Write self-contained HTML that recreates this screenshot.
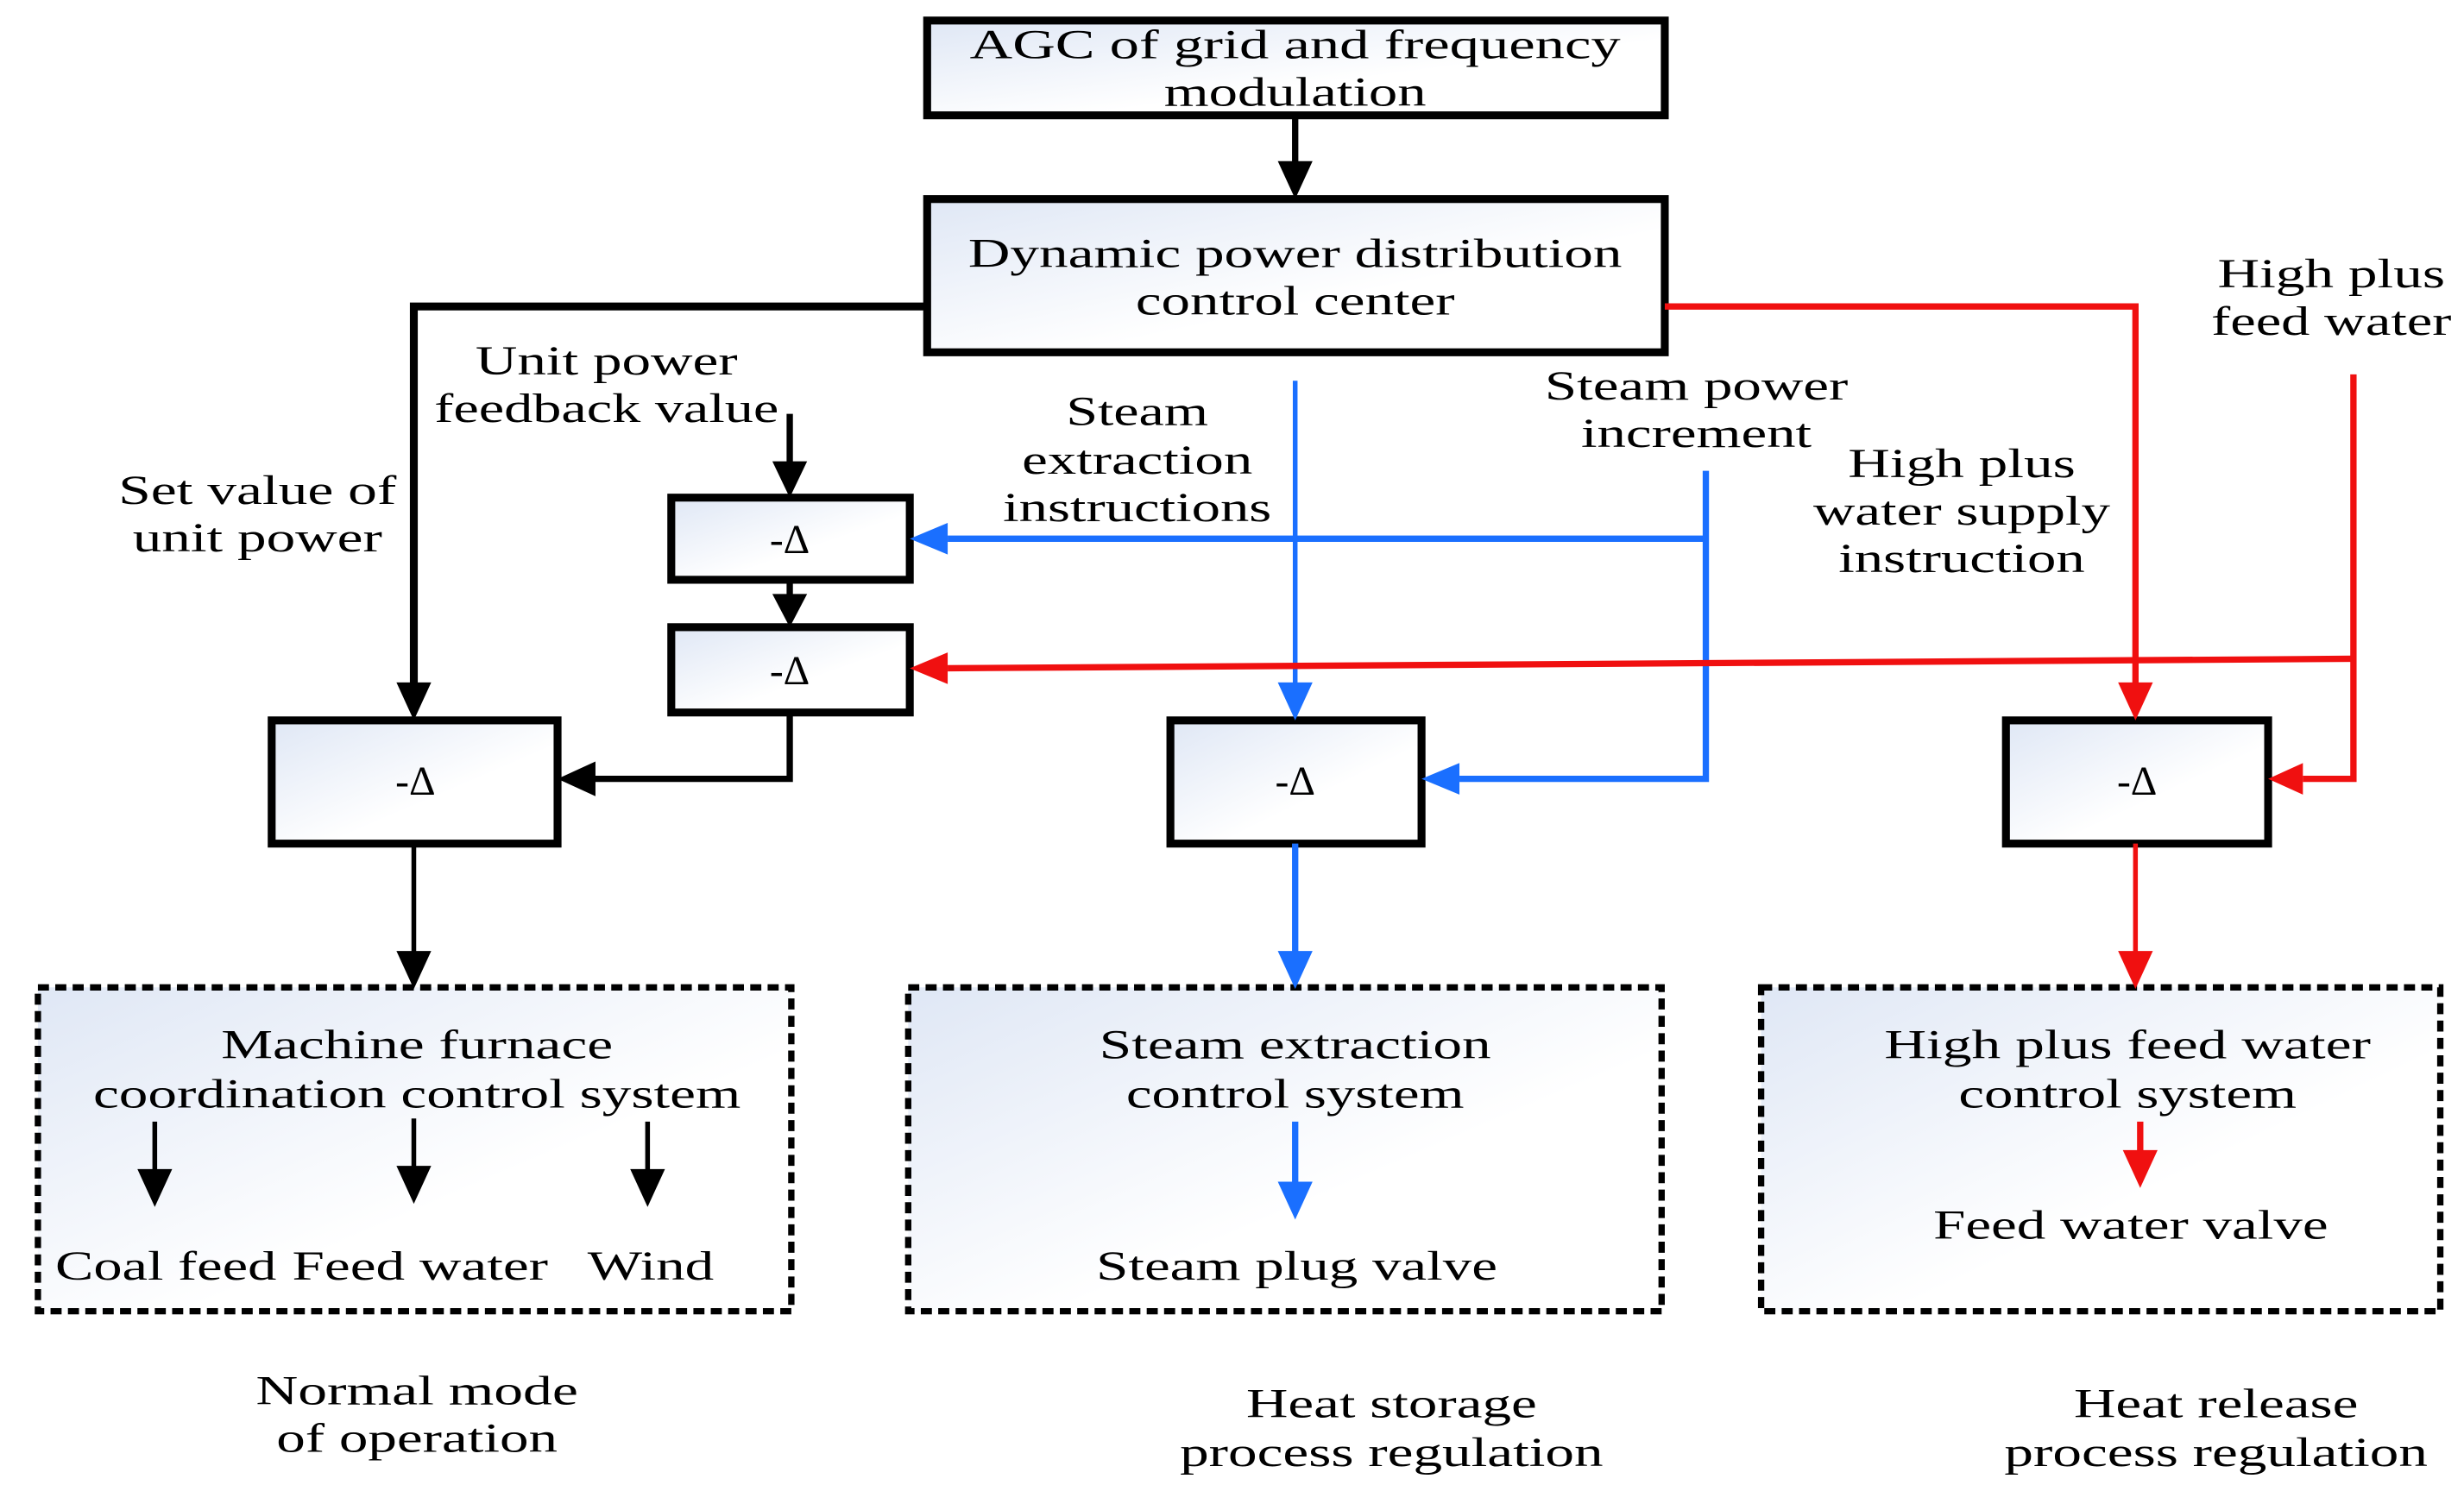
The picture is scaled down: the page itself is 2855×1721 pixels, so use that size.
<!DOCTYPE html>
<html><head><meta charset="utf-8"><style>
html,body{margin:0;padding:0;background:#fff;}
svg{display:block;}
text{font-family:"Liberation Serif",serif;font-size:26px;fill:#000;text-anchor:middle;}
</style></head><body>
<svg width="2855" height="1721" viewBox="0 0 1560 940" preserveAspectRatio="none" xmlns="http://www.w3.org/2000/svg">
<defs>
<linearGradient id="g" x1="0" y1="0" x2="1" y2="1">
<stop offset="0" stop-color="#dfe7f5"/><stop offset="0.6" stop-color="#ffffff"/>
</linearGradient>
<marker id="ak" markerWidth="10" markerHeight="10" refX="9" refY="5" orient="auto" markerUnits="userSpaceOnUse" viewBox="0 0 10 10"><path d="M0,0 L10,5 L0,10z" fill="#000"/></marker>
</defs>
<g fill="url(#g)" stroke="#000" stroke-width="5">
<rect x="587" y="13" width="467" height="60"/>
<rect x="587" y="126" width="467" height="97"/>
<rect x="172" y="456" width="181" height="78"/>
<rect x="425" y="315" width="151" height="52"/>
<rect x="425" y="397" width="151" height="54"/>
<rect x="741" y="456" width="159" height="78"/>
<rect x="1270" y="456" width="166" height="78"/>
</g>
<g fill="url(#g)" stroke="#000" stroke-width="4" stroke-dasharray="7,4">
<rect x="24" y="625" width="477" height="205"/>
<rect x="575" y="625" width="477" height="205"/>
<rect x="1115" y="625" width="430" height="205"/>
</g>
<!-- arrowheads helper: polygons -->
<g fill="none" stroke-width="4">
<path d="M820,73 V104" stroke="#000"/>
<path d="M587,194 H262 V434" stroke="#000" stroke-width="5"/>
<path d="M500,262 V294" stroke="#000"/>
<path d="M500,367 V380" stroke="#000"/>
<path d="M500,451 V493 H375" stroke="#000"/>
<path d="M262,534 V604" stroke="#000" stroke-width="3"/>
<path d="M820,241 V434" stroke="#1a6fff" stroke-width="3"/>
<path d="M1080,341 H600" stroke="#1a6fff"/>
<path d="M1080,298 V493 H924" stroke="#1a6fff"/>
<path d="M820,534 V604" stroke="#1a6fff"/>
<path d="M1054,194 H1352 V434" stroke="#f01010"/>
<path d="M1490,237 V493 H1458" stroke="#f01010"/>
<path d="M1490,417 L600,423" stroke="#f01010"/>
<path d="M1352,534 V604" stroke="#f01010" stroke-width="3"/>
<path d="M98,710 V742 M262,708 V740 M410,710 V742" stroke="#000" stroke-width="3"/>
<path d="M820,710 V750" stroke="#1a6fff"/>
<path d="M1355,710 V730" stroke="#f01010"/>
</g>
<g>
<polygon points="809,102 831,102 820,126" fill="#000"/>
<polygon points="251,432 273,432 262,456" fill="#000"/>
<polygon points="489,292 511,292 500,315" fill="#000"/>
<polygon points="489,376 511,376 500,397" fill="#000"/>
<polygon points="377,482 377,504 353,493" fill="#000"/>
<polygon points="251,602 273,602 262,626" fill="#000"/>
<polygon points="809,432 831,432 820,456" fill="#1a6fff"/>
<polygon points="600,331 600,351 576,341" fill="#1a6fff"/>
<polygon points="924,483 924,503 900,493" fill="#1a6fff"/>
<polygon points="809,602 831,602 820,626" fill="#1a6fff"/>
<polygon points="1341,432 1363,432 1352,456" fill="#f01010"/>
<polygon points="1458,483 1458,503 1436,493" fill="#f01010"/>
<polygon points="600,413 600,433 576,423" fill="#f01010"/>
<polygon points="1341,602 1363,602 1352,626" fill="#f01010"/>
<polygon points="87,740 109,740 98,764" fill="#000"/>
<polygon points="251,738 273,738 262,762" fill="#000"/>
<polygon points="399,740 421,740 410,764" fill="#000"/>
<polygon points="809,748 831,748 820,772" fill="#1a6fff"/>
<polygon points="1344,728 1366,728 1355,752" fill="#f01010"/>
</g>
<text x="820" y="37" textLength="412" lengthAdjust="spacingAndGlyphs">AGC of grid  and frequency</text>
<text x="820" y="67" textLength="166" lengthAdjust="spacingAndGlyphs">modulation</text>
<text x="820" y="169" textLength="414" lengthAdjust="spacingAndGlyphs">Dynamic power distribution</text>
<text x="820" y="199" textLength="202" lengthAdjust="spacingAndGlyphs">control center</text>
<text x="384" y="237" textLength="166" lengthAdjust="spacingAndGlyphs">Unit power</text>
<text x="384" y="267" textLength="218" lengthAdjust="spacingAndGlyphs">feedback value</text>
<text x="163" y="319" textLength="176" lengthAdjust="spacingAndGlyphs">Set value of</text>
<text x="163" y="349" textLength="158" lengthAdjust="spacingAndGlyphs">unit power</text>
<text x="720" y="269" textLength="90" lengthAdjust="spacingAndGlyphs">Steam</text>
<text x="720" y="300" textLength="146" lengthAdjust="spacingAndGlyphs">extraction</text>
<text x="720" y="330" textLength="170" lengthAdjust="spacingAndGlyphs">instructions</text>
<text x="1074" y="253" textLength="192" lengthAdjust="spacingAndGlyphs">Steam power</text>
<text x="1074" y="283" textLength="146" lengthAdjust="spacingAndGlyphs">increment</text>
<text x="1242" y="302" textLength="144" lengthAdjust="spacingAndGlyphs">High plus</text>
<text x="1242" y="332" textLength="188" lengthAdjust="spacingAndGlyphs">water supply</text>
<text x="1242" y="362" textLength="156" lengthAdjust="spacingAndGlyphs">instruction</text>
<text x="1476" y="182" textLength="144" lengthAdjust="spacingAndGlyphs">High plus</text>
<text x="1476" y="212" textLength="152" lengthAdjust="spacingAndGlyphs">feed water</text>
<text x="263" y="503">-Δ</text>
<text x="500" y="350">-Δ</text>
<text x="500" y="433">-Δ</text>
<text x="820" y="503">-Δ</text>
<text x="1353" y="503">-Δ</text>
<text x="264" y="670" textLength="248" lengthAdjust="spacingAndGlyphs">Machine furnace</text>
<text x="264" y="701" textLength="410" lengthAdjust="spacingAndGlyphs">coordination control system</text>
<text x="105" y="810" textLength="140" lengthAdjust="spacingAndGlyphs">Coal feed</text>
<text x="266" y="810" textLength="162" lengthAdjust="spacingAndGlyphs">Feed water</text>
<text x="412" y="810" textLength="80" lengthAdjust="spacingAndGlyphs">Wind</text>
<text x="820" y="670" textLength="248" lengthAdjust="spacingAndGlyphs">Steam extraction</text>
<text x="820" y="701" textLength="214" lengthAdjust="spacingAndGlyphs">control system</text>
<text x="821" y="810" textLength="254" lengthAdjust="spacingAndGlyphs">Steam plug valve</text>
<text x="1347" y="670" textLength="308" lengthAdjust="spacingAndGlyphs">High plus feed water</text>
<text x="1347" y="701" textLength="214" lengthAdjust="spacingAndGlyphs">control system</text>
<text x="1349" y="784" textLength="250" lengthAdjust="spacingAndGlyphs">Feed water valve</text>
<text x="264" y="889" textLength="204" lengthAdjust="spacingAndGlyphs">Normal mode</text>
<text x="264" y="919" textLength="178" lengthAdjust="spacingAndGlyphs">of operation</text>
<text x="881" y="897" textLength="184" lengthAdjust="spacingAndGlyphs">Heat storage</text>
<text x="881" y="928" textLength="268" lengthAdjust="spacingAndGlyphs">process regulation</text>
<text x="1403" y="897" textLength="180" lengthAdjust="spacingAndGlyphs">Heat release</text>
<text x="1403" y="928" textLength="268" lengthAdjust="spacingAndGlyphs">process regulation</text>
</svg>
</body></html>
